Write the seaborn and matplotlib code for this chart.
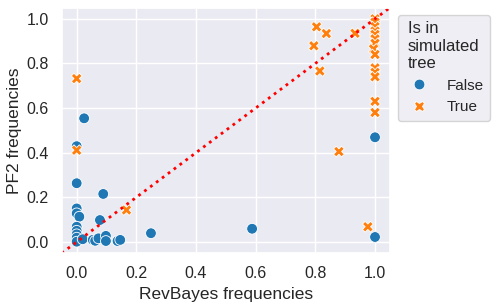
import matplotlib
matplotlib.use("Agg")
import matplotlib.pyplot as plt
import seaborn as sns
import pandas as pd

# Points not in simulated tree (False)
false_x = [0.0, 0.025, 0.0, 0.089, 0.0, 0.0, 0.009, 0.078, 0.0, 0.0, 0.0, 0.0, 0.0,
           0.020, 0.054, 0.062, 0.073, 0.098, 0.098, 0.137, 0.146, 0.249, 0.588,
           1.0, 1.0]
false_y = [0.429, 0.554, 0.263, 0.215, 0.150, 0.128, 0.113, 0.098, 0.068, 0.050, 0.034, 0.019, 0.001,
           0.012, 0.009, 0.005, 0.016, 0.027, 0.004, 0.004, 0.009, 0.039, 0.059,
           0.469, 0.022]
# Points in simulated tree (True)
true_x = [0.0, 0.0, 0.167, 0.795, 0.804, 0.815, 0.837, 0.933, 0.879, 0.976,
          1.0, 1.0, 1.0, 1.0, 1.0, 1.0, 1.0, 0.995, 1.0, 1.0, 1.0, 1.0, 1.0, 1.0]
true_y = [0.732, 0.411, 0.143, 0.879, 0.964, 0.766, 0.934, 0.935, 0.405, 0.068,
          1.0, 0.985, 0.965, 0.945, 0.93, 0.91, 0.89, 0.865, 0.84, 0.78, 0.76, 0.74, 0.63, 0.58]

hue_col = "Is in\nsimulated\ntree"
df = pd.DataFrame({
    "RevBayes frequencies": false_x + true_x,
    "PF2 frequencies": false_y + true_y,
    hue_col: [False] * len(false_x) + [True] * len(true_x),
})

sns.set_theme(style="darkgrid", palette="tab10")
plt.rcParams["font.family"] = ["Liberation Sans", "DejaVu Sans"]

fig, ax = plt.subplots(figsize=(4.98, 3.06), dpi=100)
sns.scatterplot(data=df, x="RevBayes frequencies", y="PF2 frequencies",
                hue=hue_col, style=hue_col, s=60, palette="tab10", ax=ax)
ax.plot([0, 1], [0, 1], transform=ax.transAxes, ls=":", color="red", lw=2)
ax.set_xlim(-0.05, 1.05)
ax.set_ylim(-0.05, 1.05)
ax.set_xticks([0, 0.2, 0.4, 0.6, 0.8, 1.0])
ax.set_yticks([0, 0.2, 0.4, 0.6, 0.8, 1.0])
ax.tick_params(labelsize=11.5)
ax.xaxis.label.set_size(12.5)
ax.yaxis.label.set_size(12.5)
ax.yaxis.labelpad = 3
leg = ax.legend(title=hue_col, bbox_to_anchor=(1.0, 1), loc="upper left",
                fontsize=11, title_fontsize=12)
fig.subplots_adjust(left=0.124, right=0.783, top=0.975, bottom=0.173)
fig.savefig("out.png", dpi=100)
